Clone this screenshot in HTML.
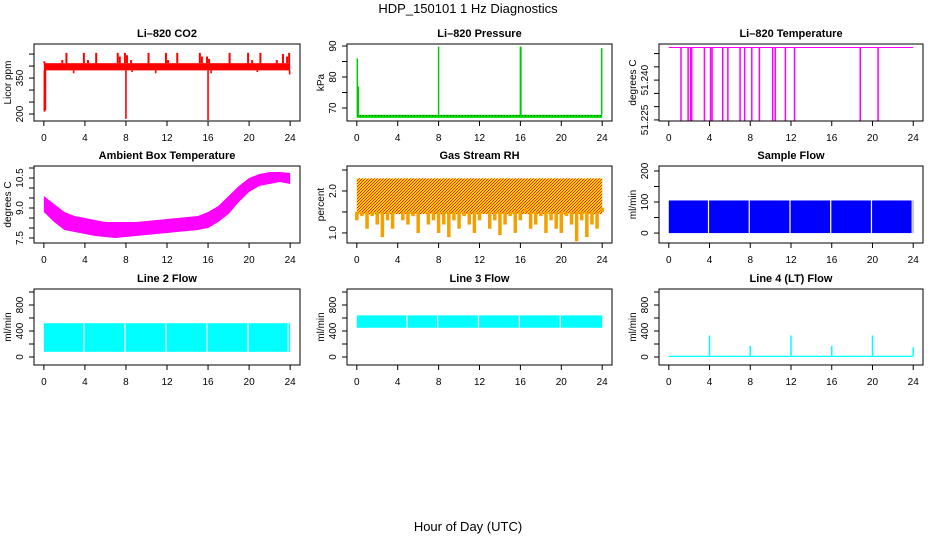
<!DOCTYPE html>
<html><head><meta charset="utf-8"><style>
html,body{margin:0;padding:0;background:#fff}
svg{display:block;font-family:"Liberation Sans",sans-serif}
</style></head><body>
<svg id="chart" width="936" height="540" xmlns="http://www.w3.org/2000/svg">
<defs>
<pattern id="rhpat" width="3" height="3" patternUnits="userSpaceOnUse">
<rect width="3" height="3" fill="#ffd000"/><rect x="0" y="0" width="1" height="1" fill="#ff2000"/><rect x="2" y="1" width="1" height="1" fill="#f03000"/><rect x="1" y="2" width="1" height="1" fill="#ff2000"/>
</pattern>
</defs>
<text x="468" y="13" text-anchor="middle" font-size="13">HDP_150101 1 Hz Diagnostics</text>
<text x="468" y="531" text-anchor="middle" font-size="13">Hour of Day (UTC)</text>
</svg>
<script>
// ---- data ----
const xTicks = [0,4,8,12,16,20,24];
const co2Base = [382, 412];
const co2SpikeHours = [0.05,0.12,1.8,2.2,3.9,4.3,5.1,7.2,7.4,7.9,8.1,8.5,10.2,11.9,12.1,13.0,15.2,15.4,15.9,16.1,18.1,19.9,20.3,21.1,22.7,23.3,23.7,23.9];
const co2SpikeValues = [420,300,425,455,455,425,455,455,440,455,445,425,455,455,425,455,455,440,440,430,455,455,425,455,425,450,440,455];
const co2DipHours = [0.05,0.15,2.9,8.0,8.6,10.9,16.0,16.3,20.8,23.95];
const co2DipValues = [210,215,370,180,375,370,175,370,375,365];
const presBase = [66.8, 67.8];
const presSpikeHours = [0.05,0.15,8.0,16.0,16.05,23.95];
const presSpikeValues = [86,77,89.8,89.8,89.8,89.3];
const tempLine = 51.2523;
const tempDipHours = [1.2,1.9,2.15,2.25,3.5,4.1,4.25,5.3,5.8,7.0,7.45,8.15,8.9,10.2,10.45,11.45,12.35,18.8,20.55];
const tempDipValue = 51.2247;
const ambHours = [0,1,2,3,4,5,6,7,8,9,10,11,12,13,14,15,16,17,18,19,20,21,22,23,24];
const ambUpper = [9.6,9.2,8.8,8.6,8.5,8.4,8.3,8.3,8.3,8.3,8.35,8.4,8.45,8.5,8.55,8.6,8.8,9.1,9.6,10.1,10.5,10.7,10.8,10.8,10.75];
const ambLower = [8.8,8.3,7.9,7.8,7.7,7.6,7.55,7.5,7.55,7.6,7.65,7.7,7.75,7.8,7.85,7.9,8.0,8.3,8.7,9.3,9.8,10.1,10.2,10.3,10.2];
const rhTop = 2.3;
const rhLow = [1.3,1.4,1.1,1.4,1.2,0.9,1.3,1.1,1.5,1.3,1.2,1.4,1.0,1.5,1.2,1.3,1.0,1.2,0.9,1.3,1.1,1.4,1.2,1.0,1.3,1.5,1.1,1.3,0.95,1.2,1.4,1.0,1.3,1.6,1.1,1.2,1.4,1.0,1.3,1.1,1.0,1.4,1.2,0.8,1.3,0.9,1.2,1.1,1.6];
const sfBand = [0, 105];
const sfGaps = [3.9,7.9,11.9,15.9,19.9,23.9];
const l2Band = [80, 520];
const l2Gaps = [3.9,7.9,11.9,15.9,19.9,23.8];
const l3Band = [450, 640];
const l3Gaps = [4.9,7.9,11.9,15.9,19.9];
const l4Base = [0, 20];
const l4SpikeHours = [4,8,12,16,20,24];
const l4SpikeValues = [330,170,330,170,330,150];

const NS = "http://www.w3.org/2000/svg";
const svg = document.getElementById('chart');
function mk(tag, attrs, parent){const e=document.createElementNS(NS,tag);for(const k in attrs)e.setAttribute(k,attrs[k]);(parent||svg).appendChild(e);return e;}

function panel(o){
  const g = mk('g',{});
  
  
  const L=o.x0,R=o.x1,T=o.y0,B=o.y1;
  const xs = h => L + (R-L)*((h+0.96)/25.92);
  const ys = v => B - (B-T)*((v-o.ymin)/(o.ymax-o.ymin));
  o.draw(g, xs, ys);
  mk('rect',{x:L,y:T,width:R-L,height:B-T,fill:'none',stroke:'#000','stroke-width':1},g);
  const t = mk('text',{x:(L+R)/2,y:T-7,'text-anchor':'middle','font-size':11,'font-weight':'bold'},g);
  t.textContent=o.title;
  
  
  xTicks.forEach(h=>{
    mk('line',{x1:xs(h),x2:xs(h),y1:B,y2:B+5,stroke:'#000'},g);
    const tl=mk('text',{x:xs(h),y:B+20,'text-anchor':'middle','font-size':10},g);
    tl.textContent=h;
    
    
  });
  o.yticks.forEach(v=>{mk('line',{x1:L-5,x2:L,y1:ys(v),y2:ys(v),stroke:'#000'},g);});
  o.ylabels.forEach(v=>{
    const y=ys(v);
    const tl=mk('text',{x:L-11,y:y,'text-anchor':'middle','font-size':10,transform:`rotate(-90 ${L-11} ${y})`},g);
    tl.textContent=o.fmt?o.fmt(v):v;
    
    
  });
  const yl=mk('text',{x:L-23,y:(T+B)/2,'text-anchor':'middle','font-size':10,transform:`rotate(-90 ${L-23} ${(T+B)/2})`},g);
  yl.textContent=o.ylab;
  
  
}

function band(g,xs,ys,lo,hi,col,gaps,h0,h1){
  mk('rect',{x:xs(h0),y:ys(hi),width:xs(h1)-xs(h0),height:ys(lo)-ys(hi),fill:col},g);
  (gaps||[]).forEach(h=>mk('line',{x1:xs(h),x2:xs(h),y1:ys(hi),y2:ys(lo),stroke:'#fff','stroke-width':1.2},g));
}
function vline(g,xs,ys,h,v0,v1,col,w){mk('line',{x1:xs(h),x2:xs(h),y1:ys(v0),y2:ys(v1),stroke:col,'stroke-width':w||1.6},g);}

const C1=[34,300],C2=[347,612],C3=[659,923];
const R1=[44,121],R2=[166,243],R3=[289,365];

panel({name:'co2-panel',title:'Li\u2013820 CO2',ylab:'Licor ppm',x0:C1[0],x1:C1[1],y0:R1[0],y1:R1[1],ymin:171,ymax:492,
  yticks:[200,250,300,350,400,450],ylabels:[200,350],
  draw:(g,xs,ys)=>{
    band(g,xs,ys,co2Base[0],co2Base[1],'#ff0000',null,0,24);
    co2SpikeHours.forEach((h,i)=>vline(g,xs,ys,h,co2Base[1],co2SpikeValues[i],'#ff0000',2));
    co2DipHours.forEach((h,i)=>vline(g,xs,ys,h,co2Base[0],co2DipValues[i],'#ff0000',1.6));
  }});
panel({name:'pressure-panel',title:'Li\u2013820 Pressure',ylab:'kPa',x0:C2[0],x1:C2[1],y0:R1[0],y1:R1[1],ymin:65.8,ymax:90.65,
  yticks:[70,75,80,85,90],ylabels:[70,80,90],
  draw:(g,xs,ys)=>{
    band(g,xs,ys,presBase[0],presBase[1],'#00dd00',null,0,24);
    mk('line',{x1:xs(0),x2:xs(24),y1:ys(67.5),y2:ys(67.5),stroke:'#000','stroke-dasharray':'1 2','stroke-width':0.8},g);
    presSpikeHours.forEach((h,i)=>vline(g,xs,ys,h,presBase[1],presSpikeValues[i],'#00cc00',1.5));
  }});
panel({name:'li820-temperature-panel',title:'Li\u2013820 Temperature',ylab:'degrees C',x0:C3[0],x1:C3[1],y0:R1[0],y1:R1[1],ymin:51.2246,ymax:51.2536,
  yticks:[51.225,51.23,51.235,51.24,51.245,51.25],ylabels:[51.225,51.24],fmt:v=>v.toFixed(3),
  draw:(g,xs,ys)=>{
    mk('line',{x1:xs(0),x2:xs(24),y1:ys(tempLine),y2:ys(tempLine),stroke:'#ff00ff','stroke-width':1},g);
    tempDipHours.forEach(h=>vline(g,xs,ys,h,tempLine,tempDipValue,'#ff00ff',1.5));
  }});
panel({name:'ambient-temperature-panel',title:'Ambient Box Temperature',ylab:'degrees C',x0:C1[0],x1:C1[1],y0:R2[0],y1:R2[1],ymin:7.25,ymax:11.1,
  yticks:[7.5,8,8.5,9,9.5,10,10.5,11],ylabels:[7.5,9.0,10.5],fmt:v=>v.toFixed(1),
  draw:(g,xs,ys)=>{
    let pts=ambHours.map((h,i)=>xs(h)+','+ys(ambUpper[i]));
    pts=pts.concat(ambHours.slice().reverse().map((h,i)=>xs(h)+','+ys(ambLower[ambHours.length-1-i])));
    mk('polygon',{points:pts.join(' '),fill:'#ff00ff'},g);
  }});
panel({name:'gas-stream-rh-panel',title:'Gas Stream RH',ylab:'percent',x0:C2[0],x1:C2[1],y0:R2[0],y1:R2[1],ymin:0.76,ymax:2.595,
  yticks:[1.0,1.5,2.0,2.5],ylabels:[1.0,2.0],fmt:v=>v.toFixed(1),
  draw:(g,xs,ys)=>{
    const n=rhLow.length;
    mk('rect',{x:xs(0),y:ys(rhTop),width:xs(24)-xs(0),height:ys(1.45)-ys(rhTop),fill:'url(#rhpat)'},g);
    for(let i=0;i<n;i++){
      const h=i*24/(n-1);
      mk('line',{x1:xs(h),x2:xs(h),y1:ys(1.5),y2:ys(rhLow[i]),stroke:'#f3a000','stroke-width':3.5},g);
    }
  }});
panel({name:'sample-flow-panel',title:'Sample Flow',ylab:'ml/min',x0:C3[0],x1:C3[1],y0:R2[0],y1:R2[1],ymin:-32,ymax:216,
  yticks:[0,50,100,150,200],ylabels:[0,100,200],
  draw:(g,xs,ys)=>{band(g,xs,ys,sfBand[0],sfBand[1],'#0000ff',sfGaps,0,24);}});
panel({name:'line2-flow-panel',title:'Line 2 Flow',ylab:'ml/min',x0:C1[0],x1:C1[1],y0:R3[0],y1:R3[1],ymin:-123,ymax:1046,
  yticks:[0,200,400,600,800,1000],ylabels:[0,400,800],
  draw:(g,xs,ys)=>{band(g,xs,ys,l2Band[0],l2Band[1],'#00ffff',l2Gaps,0,24);}});
panel({name:'line3-flow-panel',title:'Line 3 Flow',ylab:'ml/min',x0:C2[0],x1:C2[1],y0:R3[0],y1:R3[1],ymin:-123,ymax:1046,
  yticks:[0,200,400,600,800,1000],ylabels:[0,400,800],
  draw:(g,xs,ys)=>{band(g,xs,ys,l3Band[0],l3Band[1],'#00ffff',l3Gaps,0,24);}});
panel({name:'line4-flow-panel',title:'Line 4 (LT) Flow',ylab:'ml/min',x0:C3[0],x1:C3[1],y0:R3[0],y1:R3[1],ymin:-123,ymax:1046,
  yticks:[0,200,400,600,800,1000],ylabels:[0,400,800],
  draw:(g,xs,ys)=>{
    band(g,xs,ys,l4Base[0],l4Base[1],'#00ffff',null,0,24);
    l4SpikeHours.forEach((h,i)=>vline(g,xs,ys,h,l4Base[1],l4SpikeValues[i],'#00ffff',1.5));
  }});
</script>
</body></html>
